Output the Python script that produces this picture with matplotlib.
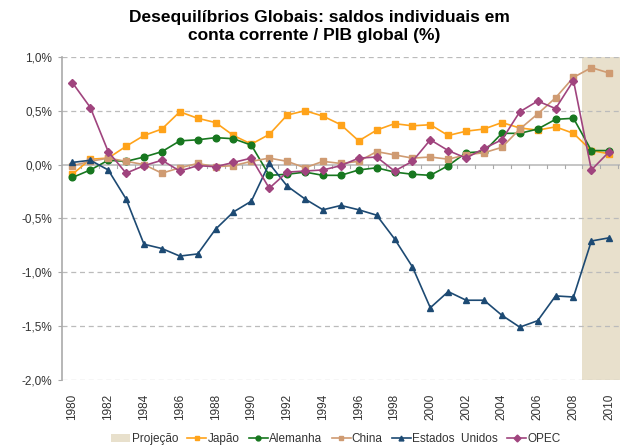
import matplotlib.pyplot as plt
from matplotlib.patches import Patch
from matplotlib.lines import Line2D
from matplotlib.ticker import FuncFormatter

plt.rcParams["font.family"] = ["Liberation Sans", "DejaVu Sans"]

years = list(range(1980, 2011))
proj_start, proj_end = 2008.5, 2010.6

japao = [-0.09, 0.05, 0.06, 0.17, 0.27, 0.33, 0.49, 0.43, 0.39, 0.27, 0.19, 0.28,
         0.46, 0.50, 0.45, 0.37, 0.22, 0.32, 0.38, 0.36, 0.37, 0.27, 0.31, 0.33,
         0.39, 0.34, 0.32, 0.35, 0.29, 0.13, 0.10]
alemanha = [-0.12, -0.05, 0.04, 0.03, 0.07, 0.12, 0.22, 0.23, 0.25, 0.24, 0.18, -0.10,
            -0.09, -0.07, -0.10, -0.10, -0.05, -0.03, -0.07, -0.09, -0.10, -0.01, 0.11, 0.12,
            0.29, 0.29, 0.33, 0.42, 0.43, 0.13, 0.13]
china = [-0.01, 0.03, 0.06, 0.03, 0.00, -0.08, -0.03, 0.01, -0.02, -0.01, 0.03, 0.06,
         0.03, -0.03, 0.03, 0.01, 0.03, 0.12, 0.09, 0.06, 0.07, 0.05, 0.09, 0.11,
         0.16, 0.33, 0.47, 0.62, 0.81, 0.90, 0.85]
eua = [0.02, 0.04, -0.05, -0.32, -0.74, -0.78, -0.85, -0.83, -0.60, -0.44, -0.34, 0.01,
       -0.20, -0.32, -0.42, -0.38, -0.42, -0.47, -0.69, -0.95, -1.33, -1.18, -1.26, -1.26,
       -1.40, -1.51, -1.45, -1.22, -1.23, -0.71, -0.68]
opec = [0.76, 0.53, 0.12, -0.08, -0.01, 0.04, -0.06, -0.01, -0.02, 0.02, 0.06, -0.22,
        -0.07, -0.06, -0.05, -0.01, 0.06, 0.07, -0.06, 0.03, 0.23, 0.13, 0.06, 0.15,
        0.23, 0.49, 0.59, 0.52, 0.78, -0.05, 0.12]

series = [
    ("Japão", japao, "#FFA31A", "s", 4.6),
    ("Alemanha", alemanha, "#17771F", "o", 4.8),
    ("China", china, "#CF9B72", "s", 4.6),
    ("Estados  Unidos", eua, "#1D4A73", "^", 4.8),
    ("OPEC", opec, "#A0447E", "D", 4.0),
]

fig = plt.figure(figsize=(6.2, 4.48), dpi=100, facecolor="white")
ax = fig.add_axes([0.0995, 0.152, 0.9005, 0.721])

ax.axvspan(proj_start, proj_end, color="#E8E0CC", zorder=0, lw=0)
for yv in [1.0, 0.5, -0.5, -1.0, -1.5, -2.0]:
    ax.axhline(yv, color="#BBBBBB", lw=0.9, ls=(0, (4, 3)), zorder=1)
ax.axhline(0, color="#BBBBBB", lw=1.2, zorder=1)

for name, vals, color, marker, ms in series:
    ax.plot(years, vals, color=color, marker=marker, markersize=ms, lw=1.2,
            markeredgecolor=color, zorder=3)

ax.set_xlim(1979.4, 2010.6)
ax.set_ylim(-2.0, 1.0)
ax.set_yticks([1.0, 0.5, 0.0, -0.5, -1.0, -1.5, -2.0])
ax.yaxis.set_major_formatter(FuncFormatter(lambda v, p: f"{v:.1f}%".replace(".", ",")))
ax.tick_params(axis="y", length=3, color="#AAAAAA", labelsize=8.5, labelcolor="#333333", pad=4)

# year ticks on the zero line, labels at the bottom
for yr in years:
    ax.plot([yr + 0.5, yr + 0.5], [0, -0.03], color="#AAAAAA", lw=0.8, zorder=1, clip_on=False)
ax.set_xticks(years[::2])
ax.set_xticklabels([str(y) for y in years[::2]], rotation=90, fontsize=8.5, color="#333333")
ax.tick_params(axis="x", length=0, pad=10)

for s in ["top", "right", "bottom"]:
    ax.spines[s].set_visible(False)
ax.spines["left"].set_color("#AAAAAA")
ax.spines["left"].set_linewidth(1.2)

fig.text(0.515, 0.962, "Desequilíbrios Globais: saldos individuais em",
         ha="center", va="center", fontsize=12.5, fontweight="bold")
fig.text(0.507, 0.920, "conta corrente / PIB global (%)",
         ha="center", va="center", fontsize=12.5, fontweight="bold")

handles = [Patch(facecolor="#E8E0CC", edgecolor="none", label="Projeção")]
for name, vals, color, marker, ms in series:
    handles.append(Line2D([], [], color=color, marker=marker, markersize=3.5, lw=1.2, label=name))
fig.legend(handles=handles, loc="center", bbox_to_anchor=(0.542, 0.02), ncol=6, frameon=False,
           fontsize=8.5, handlelength=1.6, handletextpad=0.1, columnspacing=0.8,
           labelcolor="#333333")

fig.savefig("out.png", dpi=100, facecolor="white")
